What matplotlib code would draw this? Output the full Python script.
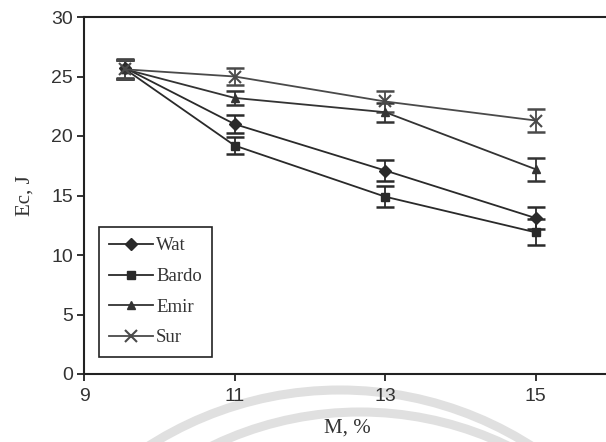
import matplotlib
matplotlib.use("Agg")
import matplotlib.pyplot as plt
from matplotlib.patches import Arc

# Moisture content (%) and impact energy (J) for four varieties
moisture = [9.55, 11, 13, 15]
wat = [25.7, 21.0, 17.1, 13.1]
bardo = [25.6, 19.2, 14.9, 11.9]
emir = [25.6, 23.2, 22.0, 17.2]
sur = [25.6, 25.0, 22.9, 21.3]

wat_err = [0.8, 0.75, 0.9, 0.9]
bardo_err = [0.8, 0.7, 0.9, 1.1]
emir_err = [0.8, 0.6, 0.8, 0.95]
sur_err = [0.8, 0.7, 0.9, 1.0]

series_names = ["Wat", "Bardo", "Emir", "Sur"]
x_ticks = [9, 11, 13, 15]
y_ticks = [0, 5, 10, 15, 20, 25, 30]

W, H = 606, 442
fig = plt.figure(figsize=(W / 100, H / 100), dpi=100)
fig.patch.set_facecolor("white")

# faint background arcs
bg = fig.add_axes([0, 0, 1, 1], zorder=0)
bg.set_xlim(0, W)
bg.set_ylim(H, 0)
bg.axis("off")
for r, cx, cy in [(355, 340, 745), (340, 360, 752)]:
    bg.add_patch(Arc((cx, cy), 2 * r, 2 * r, theta1=180, theta2=360,
                     color="#e0e0e0", lw=6.5))

left, right_px, top, bottom = 84, 84 + 7 * 75.3, 17, 374
ax = fig.add_axes([left / W, 1 - bottom / H, (right_px - left) / W,
                   (bottom - top) / H], zorder=1)
ax.set_facecolor("none")

styles = [
    (wat, wat_err, "D", 6, "#2a2a2a"),
    (bardo, bardo_err, "s", 6, "#2a2a2a"),
    (emir, emir_err, "^", 6, "#333333"),
    (sur, sur_err, "x", 8, "#4a4a4a"),
]
handles = []
for (vals, errs, mk, ms, col), name in zip(styles, series_names):
    ax.errorbar(moisture, vals, yerr=errs, fmt="none", ecolor=col,
                elinewidth=1.3, capsize=6.5, capthick=1.8, zorder=3)
    (h,) = ax.plot(moisture, vals, marker=mk, ms=ms, color=col, lw=1.3,
                   mew=1.5 if mk == "x" else 1, label=name, zorder=4)
    handles.append(h)

ax.set_xlim(9, 16)
ax.set_ylim(0, 30)
ax.set_xticks(x_ticks)
ax.set_yticks(y_ticks)
for s in ax.spines.values():
    s.set_linewidth(1.5)
    s.set_color("#222222")
ax.tick_params(direction="out", length=5, width=1.3, color="#222222",
               labelsize=14, labelcolor="#333333")
ax.tick_params(axis="x", pad=5)
ax.tick_params(axis="y", pad=3)
for lab in ax.get_xticklabels() + ax.get_yticklabels():
    lab.set_fontfamily("Liberation Sans")

ax.set_xlabel("M, %", fontfamily="Liberation Serif", fontsize=15,
              color="#333333", labelpad=10)
ax.set_ylabel("Ec, J", fontfamily="Liberation Serif", fontsize=15,
              color="#333333", labelpad=12)

leg = ax.legend(handles=handles, loc="upper left",
                bbox_to_anchor=((99 - left) / (right_px - left),
                                (bottom - 227) / (bottom - top)),
                borderaxespad=0, handlelength=2.35, handletextpad=0.15,
                labelspacing=0.72, borderpad=0.55, fancybox=False,
                framealpha=1, edgecolor="#222222",
                prop={"family": "Liberation Serif", "size": 13.5})
leg.get_frame().set_linewidth(1.2)
for t in leg.get_texts():
    t.set_color("#333333")

fig.savefig("out.png", dpi=100)
